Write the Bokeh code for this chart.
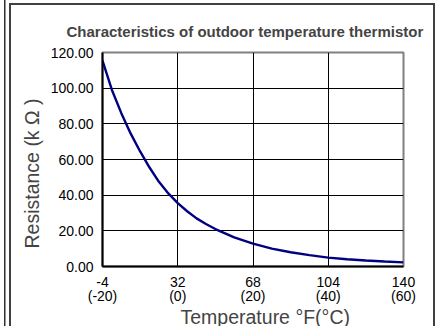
from bokeh.plotting import figure
from bokeh.models import Range1d, FixedTicker, Title, PrintfTickFormatter
from bokeh.embed import file_html
from bokeh.resources import INLINE

# data: temperature (deg C) vs resistance (kOhm)
temps_c = [-20, -17.5, -15, -12.5, -10, -7.5, -5, -2.5, 0, 2.5, 5, 7.5, 10,
           15, 20, 25, 30, 35, 40, 45, 50, 55, 60]
resistance_k = [115.5, 99.0, 86.0, 74.5, 64.5, 55.5, 47.5, 41.0, 35.5, 31.0,
                27.0, 23.8, 21.0, 16.3, 12.8, 10.0, 8.0, 6.4, 5.0, 4.1, 3.4,
                2.8, 2.3]

x_ticks_c = [-20, 0, 20, 40, 60]
x_tick_labels = ["-4\n(-20)", "32\n(0)", "68\n(20)", "104\n(40)", "140\n(60)"]
y_ticks = [0, 20, 40, 60, 80, 100, 120]

title_text = "Characteristics of outdoor temperature thermistor"
x_label = "Temperature \u00b0F(\u00b0C)"
y_label = "Resistance (k \u03a9 )"

W, H = 439, 326
frame_css = ", ".join([
    "linear-gradient(#303030,#303030) 4px 0px / 1.5px 100% no-repeat",
    "linear-gradient(#404040,#404040) 9px 3px / 2px 100% no-repeat",
    "linear-gradient(#404040,#404040) 9px 3px / 426px 2px no-repeat",
    "linear-gradient(#404040,#404040) 433px 3px / 2px 100% no-repeat",
    "white",
])
p = figure(width=W, height=H, output_backend="svg", toolbar_location=None,
           x_range=Range1d(-20, 60), y_range=Range1d(0, 120),
           min_border_left=102, min_border_right=36, min_border_top=52,
           min_border_bottom=60, styles={"background": frame_css})
p.background_fill_color = "white"
p.border_fill_alpha = 0
p.outline_line_color = "#808080"
p.outline_line_width = 2

p.line(temps_c, resistance_k, line_color="#000080", line_width=2.4)

font = "Liberation Sans"
p.xaxis.ticker = FixedTicker(ticks=x_ticks_c)
p.xaxis.major_label_overrides = {t: l for t, l in zip(x_ticks_c, x_tick_labels)}
p.yaxis.ticker = FixedTicker(ticks=y_ticks)
p.yaxis.formatter = PrintfTickFormatter(format="%.2f")
for ax in (p.xaxis, p.yaxis):
    ax.axis_line_color = "black"
    ax.axis_line_width = 2
    ax.major_tick_line_color = None
    ax.minor_tick_line_color = None
    ax.major_tick_out = 0
    ax.major_tick_in = 0
    ax.major_label_text_font = font
    ax.major_label_text_font_size = "14px"
    ax.major_label_text_color = "black"
p.xaxis.major_label_standoff = 7
p.xaxis.major_label_text_line_height = 0.9
p.yaxis.major_label_standoff = 9

p.xgrid.ticker = FixedTicker(ticks=x_ticks_c)
p.ygrid.ticker = FixedTicker(ticks=y_ticks)
p.grid.grid_line_color = "black"
p.grid.grid_line_width = 1
p.grid.grid_line_alpha = 1

p.title.text = title_text
p.title.text_font = font
p.title.text_font_style = "bold"
p.title.text_font_size = "15px"
p.title.align = "left"
p.title.offset = -36
p.title.standoff = 26

p.add_layout(Title(text=x_label, text_font=font, text_font_size="19.5px",
                   text_font_style="normal", align="left", offset=78,
                   standoff=-6), "below")
p.add_layout(Title(text=y_label, text_font=font, text_font_size="19.5px",
                   text_font_style="normal", align="left", offset=18,
                   standoff=9), "left")

open("out.html", "w").write(file_html(p, INLINE))
